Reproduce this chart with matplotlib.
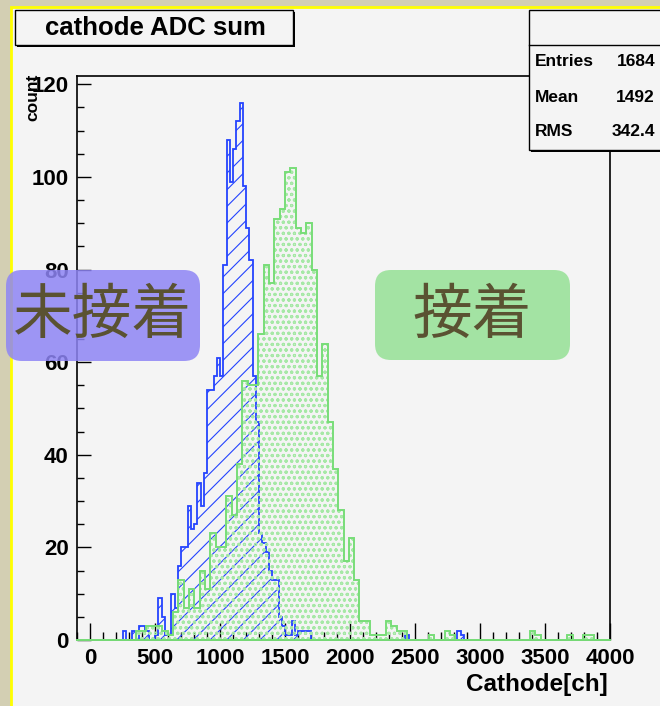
import numpy as np
import matplotlib.pyplot as plt
from matplotlib.patches import Rectangle, FancyBboxPatch
from matplotlib.ticker import MultipleLocator
from matplotlib.transforms import IdentityTransform

W, H = 660, 706

# 未接着 (blue), 25 ch bins over -100..4000
blue_lo, blue_hi, blue_bw = -100, 4000, 25
blue_start = 250
blue_counts = [2, 0, 0, 2, 0, 3, 3, 2, 0, 0,
               1, 9, 5, 1, 1, 10, 7, 16, 20, 20,
               29, 24, 25, 34, 29, 36, 54, 54, 57, 61,
               57, 81, 108, 99, 106, 112, 116, 98, 89, 82,
               57, 47, 23, 21, 19, 15, 13, 13, 5, 3,
               1, 1, 4, 1, 2, 2, 2, 2]
blue_tail_ch = [2425, 2825, 2850]
blue_tail_counts = [1, 2, 1]

# 接着 (green), 100 bins over -100..4000
green_lo, green_hi, green_nbins = -100, 4000, 100
green_counts = [0, 0, 0, 0, 0, 0, 0, 0, 0, 0,
                0, 2, 2, 3, 3, 3, 2, 1, 6, 13,
                7, 11, 7, 15, 11, 23, 20, 20, 31, 27,
                38, 56, 55, 55, 66, 81, 77, 91, 93, 101,
                102, 89, 88, 90, 80, 57, 64, 47, 37, 28,
                17, 22, 13, 4, 4, 1, 1, 1, 4, 3,
                2, 2, 0, 0, 0, 0, 1, 0, 0, 2,
                1, 0, 0, 0, 0, 0, 0, 0, 0, 0,
                0, 0, 0, 0, 0, 2, 1, 0, 0, 0,
                0, 0, 1, 0, 0, 1, 1, 0, 0, 0]

stats_names = ['Entries', 'Mean', 'RMS']
stats_values = ['1684', '1492', '342.4']

BLUE = '#2443ff'
GREEN = '#78dd78'
GREEN_HATCH = '#a6e8a6'
BG = '#f4f4f4'
FONT = 'Liberation Sans'

plt.rcParams['hatch.linewidth'] = 0.8

blue_edges = np.arange(blue_lo, blue_hi + 1, blue_bw)
blue_h = np.zeros(len(blue_edges) - 1)
i0 = (blue_start - blue_lo) // blue_bw
blue_h[i0:i0 + len(blue_counts)] = blue_counts
for c, n in zip(blue_tail_ch, blue_tail_counts):
    blue_h[(c - blue_lo) // blue_bw] = n

green_edges = np.linspace(green_lo, green_hi, green_nbins + 1)

fig = plt.figure(figsize=(W / 100, H / 100), dpi=100)
fig.patch.set_facecolor('#d3cfb3')
px = IdentityTransform()


def P(x, y):
    return (x, H - y)


# canvas with yellow border
fig.add_artist(Rectangle(P(11, 712), 660, 705, transform=px,
                         facecolor=BG, edgecolor='#ffff00', lw=2, zorder=-1))

ax = fig.add_axes([77 / W, 1 - 640 / H, 533 / W, 564 / H])
ax.set_facecolor(BG)

ax.stairs(blue_h, blue_edges, fill=True, facecolor='none', edgecolor=BLUE,
          hatch='//', lw=1.3, zorder=3)
ax.stairs(green_counts, green_edges, fill=True, facecolor='none', edgecolor=GREEN_HATCH,
          hatch='ooo', lw=0, zorder=3.1)
ax.stairs(green_counts, green_edges, fill=False, color=GREEN, lw=1.4,
          baseline=0, zorder=3.2)
ax.plot([-100, 4000], [0, 0], color=GREEN, lw=1.4, zorder=3.2, clip_on=False)

ax.set_xlim(-100, 4000)
ax.set_ylim(0, 121.8)
ax.xaxis.set_major_locator(MultipleLocator(500))
ax.xaxis.set_minor_locator(MultipleLocator(100))
ax.yaxis.set_major_locator(MultipleLocator(20))
ax.yaxis.set_minor_locator(MultipleLocator(5))
ax.tick_params(which='both', direction='in', top=False, right=False, width=1.0,
               labelsize=16, pad=6)
ax.tick_params(axis='x', which='major', length=12)
ax.tick_params(axis='x', which='minor', length=6)
ax.tick_params(axis='y', which='major', length=10)
ax.tick_params(axis='y', which='minor', length=5)
for lab in ax.get_xticklabels() + ax.get_yticklabels():
    lab.set_fontweight('bold')
    lab.set_fontfamily(FONT)
for s in ax.spines.values():
    s.set_linewidth(1.2)

fig.text(33, H - 74, 'count', transform=px, rotation=90, ha='center', va='top',
         fontsize=12.5, fontweight='bold', family=FONT)
fig.text(608, H - 685, 'Cathode[ch]', transform=px, ha='right', va='center',
         fontsize=17.5, fontweight='bold', family=FONT)

# title box
fig.add_artist(Rectangle(P(17, 47), 278, 35, transform=px, facecolor='black', lw=0, zorder=4))
fig.add_artist(Rectangle(P(15, 45), 278, 35, transform=px, facecolor=BG,
                         edgecolor='black', lw=1, zorder=5))
fig.text(155, H - 28, 'cathode ADC sum', transform=px, ha='center', va='center',
         fontsize=18.5, fontweight='bold', family=FONT, zorder=6)

# stats box
fig.add_artist(Rectangle(P(531, 152), 140, 140, transform=px, facecolor='black', lw=0, zorder=4))
fig.add_artist(Rectangle(P(529, 150), 140, 140, transform=px, facecolor=BG,
                         edgecolor='black', lw=1, zorder=5))
fig.add_artist(plt.Line2D([529, 660], [H - 45, H - 45], transform=px, color='black',
                          lw=1, zorder=6))
for k, (nm, val) in enumerate(zip(stats_names, stats_values)):
    y = H - (62 + 35 * k)
    fig.text(535, y, nm, transform=px, ha='left', va='center', fontsize=12.5,
             fontweight='bold', family=FONT, zorder=6)
    fig.text(655, y, val, transform=px, ha='right', va='center', fontsize=12.5,
             fontweight='bold', family=FONT, zorder=6)

# japanese labels
TXT = '#5a5232'
fig.add_artist(FancyBboxPatch(P(6, 361), 194, 91, transform=px,
                              boxstyle='round,pad=0,rounding_size=16',
                              facecolor='#8e85f5', edgecolor='none', alpha=0.85, zorder=7))
fig.text(103, H - 316, '未接着', transform=px, ha='center', va='center', fontsize=43,
         color=TXT, family='Noto Sans CJK JP', zorder=8)
fig.add_artist(FancyBboxPatch(P(375, 360), 195, 90, transform=px,
                              boxstyle='round,pad=0,rounding_size=16',
                              facecolor='#95e195', edgecolor='none', alpha=0.85, zorder=7))
fig.text(472, H - 316, '接着', transform=px, ha='center', va='center', fontsize=43,
         color=TXT, family='Noto Sans CJK JP', zorder=8)

fig.savefig('out.png', dpi=100, facecolor=fig.get_facecolor())
